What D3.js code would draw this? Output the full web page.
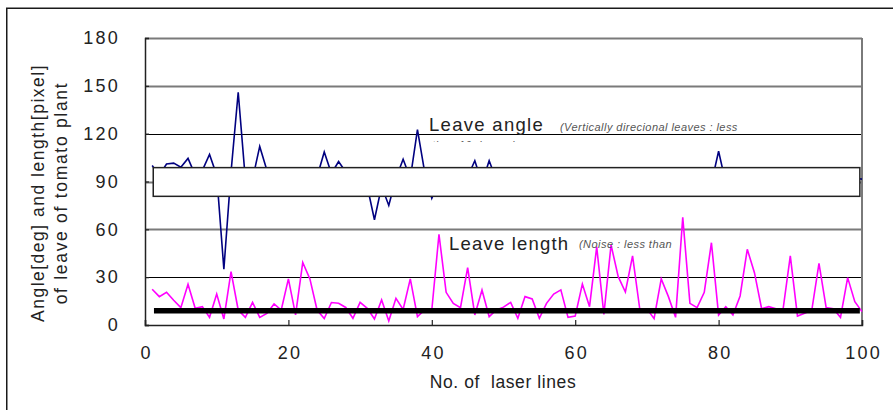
<!DOCTYPE html>
<html>
<head>
<meta charset="utf-8">
<script src="https://cdn.jsdelivr.net/npm/d3@7/dist/d3.min.js"></script>
<style>
  html, body { margin: 0; padding: 0; background: #fff; }
  svg { display: block; font-family: "Liberation Sans", Arial, sans-serif; }
</style>
</head>
<body>
<svg id="chart" width="893" height="410"></svg>
<script>
// Laser line index 1..100
const lineNo = d3.range(1, 101);

// Leave angle [deg] per laser line
const leaveAngle = [
  100, 94, 101, 101.5, 99, 104.5, 94, 97, 107, 94,
  35, 96, 146, 91, 91.5, 112, 97, 93, 90, 92,
  95, 91, 94, 93, 108.5, 95, 102.5, 96, 92, 90,
  87, 66, 87, 75, 92, 104, 92, 122.5, 96, 79.5,
  90, 93, 91, 94, 93, 103, 89, 103, 91, 92,
  89, 94, 90, 93, 95, 88, 91, 94, 92, 90,
  93, 96, 91, 89, 94, 92, 90, 95, 93, 91,
  88, 92, 94, 90, 93, 95, 91, 92, 89, 109,
  89, 93, 95, 90, 92, 94, 91, 88, 93, 95,
  90, 92, 94, 91, 89, 93, 95, 90, 92, 91.5
];

// Leave length [pixel] per laser line
const leaveLength = [
  22.4, 17.8, 20.5, 15.5, 10.9, 25.5, 10.5, 11.5, 4.8, 19.4,
  3.8, 33.5, 9.4, 4.8, 14.2, 4.8, 7.3, 13.2, 9.4, 28.9,
  6.3, 39.3, 28.9, 9.4, 4.1, 14.1, 13.6, 11, 4.2, 14.2,
  10.5, 3.8, 15.7, 2.5, 16.7, 9.8, 28.9, 5.2, 9.4, 9.4,
  56.9, 20.5, 13.6, 10.9, 36, 6.3, 22, 5.2, 9.4, 11.2,
  14.2, 4.2, 17.8, 16.3, 4.2, 13.6, 19.4, 22, 4.8, 5.6,
  25.7, 11.5, 49, 6.7, 50.2, 30.3, 20.7, 43.3, 10.2, 10.2,
  4, 28.9, 17.8, 4.8, 67.5, 13.6, 10.9, 20.5, 51.6, 6.3,
  11.5, 6.3, 18.2, 47.5, 32.8, 10.2, 11.5, 10.2, 10.2, 43.3,
  5.6, 7.3, 9.4, 38.7, 10.9, 10.2, 4.8, 29.7, 14.6, 8.4
];

// Masked angle band (vertical-leaf range) and noise level for length
const bandRange = [80.7, 98.7];
const bandSpan = [1.15, 99.7];
const noiseLevel = 9;
const noiseSpan = [1.25, 99.7];

// Axis ticks
const yTicks = [0, 30, 60, 90, 120, 150, 180];
const xTicks = [0, 20, 40, 60, 80, 100];
// gridlines drawn in dark thin ink; the rest in grey
const darkGrid = [30, 120];

const svg = d3.select("#chart");
const plot = { left: 145, right: 862, top: 38, bottom: 325 };

const x = d3.scaleLinear().domain([0, 100]).range([plot.left, plot.right]);
const y = d3.scaleLinear().domain([0, 180]).range([plot.bottom, plot.top]);

// Outer frame
svg.append("rect")
  .attr("x", 6.75).attr("y", 8.25)
  .attr("width", 1000).attr("height", 1000)
  .attr("fill", "none").attr("stroke", "#1a1a1a").attr("stroke-width", 1.5);

// Horizontal gridlines
svg.append("g").selectAll("line")
  .data(yTicks.filter(t => t > 0))
  .join("line")
  .attr("x1", plot.left).attr("x2", plot.right)
  .attr("y1", d => Math.round(y(d)) + 0.5).attr("y2", d => Math.round(y(d)) + 0.5)
  .attr("stroke", d => darkGrid.includes(d) ? "#000" : "#7a7a7a")
  .attr("stroke-width", d => darkGrid.includes(d) ? 1 : 2);

// Right border of plot area
svg.append("line")
  .attr("x1", plot.right).attr("x2", plot.right)
  .attr("y1", plot.top).attr("y2", plot.bottom)
  .attr("stroke", "#7a7a7a").attr("stroke-width", 2);

// Axes
const yAxis = d3.axisLeft(y).tickValues(yTicks).tickSize(-4).tickPadding(25);
const xAxis = d3.axisBottom(x).tickValues(xTicks).tickSize(-5).tickPadding(21);

const gy = svg.append("g").attr("transform", `translate(${plot.left},0)`).call(yAxis);
const gx = svg.append("g").attr("transform", `translate(0,${plot.bottom})`).call(xAxis);

[gx, gy].forEach(g => {
  g.select(".domain").attr("stroke", "#222").attr("stroke-width", 1.5);
  g.selectAll(".tick line").attr("stroke", "#222").attr("stroke-width", 1.2);
  g.selectAll(".tick text")
    .attr("fill", "#222")
    .style("font-size", "18px")
    .style("letter-spacing", "2.2px")
    .style("font-family", "'Liberation Sans', Arial, sans-serif");
});
gx.selectAll(".tick text").attr("dx", "1.1px");

// Series lines
const seriesLine = d3.line()
  .x((d, i) => x(lineNo[i]))
  .y(d => y(d));

svg.append("path")
  .datum(leaveAngle)
  .attr("d", seriesLine)
  .attr("fill", "none")
  .attr("stroke", "#000080")
  .attr("stroke-width", 1.6)
  .attr("stroke-linejoin", "miter");

svg.append("path")
  .datum(leaveLength)
  .attr("d", seriesLine)
  .attr("fill", "none")
  .attr("stroke", "#ff00ff")
  .attr("stroke-width", 1.6);

// Masking band over the angle series
svg.append("rect")
  .attr("x", x(bandSpan[0]))
  .attr("y", y(bandRange[1]))
  .attr("width", x(bandSpan[1]) - x(bandSpan[0]))
  .attr("height", y(bandRange[0]) - y(bandRange[1]))
  .attr("fill", "#fff")
  .attr("stroke", "#222")
  .attr("stroke-width", 1.5);

// Noise level bar
svg.append("line")
  .attr("x1", x(noiseSpan[0])).attr("x2", x(noiseSpan[1]))
  .attr("y1", y(noiseLevel)).attr("y2", y(noiseLevel))
  .attr("stroke", "#000")
  .attr("stroke-width", 5.5);

// Annotations
const label = (tx, ty, txt, size, opts = {}) => svg.append("text")
  .attr("x", tx).attr("y", ty)
  .attr("fill", opts.fill || "#222")
  .style("font-size", size + "px")
  .style("font-style", opts.italic ? "italic" : "normal")
  .style("letter-spacing", (opts.ls || 0) + "px")
  .text(txt);

label(429, 131, "Leave angle", 18.5, { ls: 1.3 });
label(560, 131, "(Vertically direcional leaves : less", 11, { italic: true, fill: "#555", ls: 0.45 });

// second line of the angle note, partly covered
svg.append("clipPath").attr("id", "noteClip")
  .append("rect").attr("x", 420).attr("y", 136).attr("width", 200).attr("height", 6);
label(432, 149, "than 10 degree)", 11, { italic: true, fill: "#555", ls: 0.45 })
  .attr("clip-path", "url(#noteClip)");

label(449, 250, "Leave length", 18.5, { ls: 1.2 });
label(579, 248, "(Noise : less than", 11, { italic: true, fill: "#555", ls: 0.45 });

// Axis titles
svg.append("text")
  .attr("x", 503).attr("y", 388)
  .attr("text-anchor", "middle")
  .attr("fill", "#222")
  .style("font-size", "17.5px")
  .style("letter-spacing", "0.6px")
  .style("white-space", "pre")
  .text("No. of  laser lines");

const yTitle = svg.append("text")
  .attr("transform", "translate(0,193) rotate(-90)")
  .attr("text-anchor", "middle")
  .attr("fill", "#222")
  .style("font-size", "17.5px");
yTitle.append("tspan").attr("x", 0).attr("y", 44)
  .style("letter-spacing", "1.5px").text("Angle[deg] and length[pixel]");
yTitle.append("tspan").attr("x", 0).attr("y", 67)
  .style("letter-spacing", "1.7px").text("of leave of tomato plant");
</script>
</body>
</html>
